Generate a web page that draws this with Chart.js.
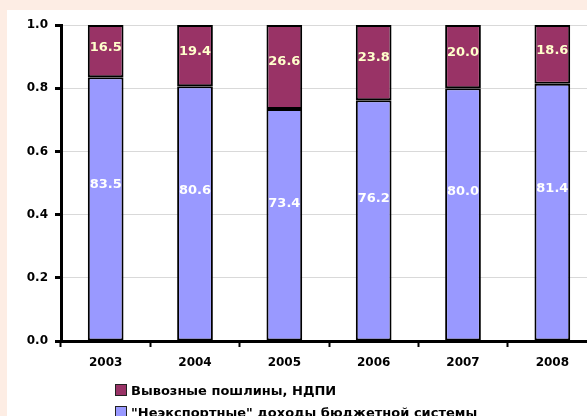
<!DOCTYPE html>
<html lang="ru">
<head>
<meta charset="utf-8">
<script src="https://cdn.jsdelivr.net/npm/chart.js@4.4.1/dist/chart.umd.min.js"></script>
<style>
  html, body { margin: 0; padding: 0; }
  body {
    width: 587px; height: 416px; overflow: hidden;
    background: #fdede4; position: relative;
    font-family: "DejaVu Sans", Arial, sans-serif;
  }
  .chart-box {
    position: absolute; left: 7px; top: 10px;
    width: 600px; height: 420px; background: #fff;
  }
  .chart-box canvas { position: absolute; left: 0; top: 0; }
  .legend {
    position: absolute; left: 108px; top: 369px;
    font-weight: bold; font-size: 13px; color: #000;
  }
  .legend__item { display: flex; align-items: center; height: 22px; white-space: nowrap; }
  .legend__box {
    width: 10px; height: 10px; border: 1px solid #222; margin-right: 4px;
  }
</style>
</head>
<body>
<div class="chart-box">
  <canvas id="chart" width="590" height="375"></canvas>
  <div class="legend" id="legend"></div>
</div>
<script>
// years
const categories = ['2003', '2004', '2005', '2006', '2007', '2008'];

// shares of budget revenue, %
const nonExportIncome = [83.5, 80.6, 73.4, 76.2, 80.0, 81.4];
const exportDuties = [16.5, 19.4, 26.6, 23.8, 20.0, 18.6];

const seriesNames = [
  '"Неэкспортные" доходы бюджетной системы',
  'Вывозные пошлины, НДПИ',
];

const yTicks = [0, 0.2, 0.4, 0.6, 0.8, 1.0];

const COLORS = {
  lower: '#9999ff',
  upper: '#993366',
  lowerText: '#ffffff',
  upperText: '#ffffcc',
};

const FONT = '"DejaVu Sans", Arial, sans-serif';

// values written inside each segment
const segmentLabels = {
  id: 'segmentLabels',
  afterDatasetsDraw(chart) {
    const { ctx } = chart;
    ctx.save();
    ctx.font = `bold 13px ${FONT}`;
    ctx.textAlign = 'center';
    ctx.textBaseline = 'middle';
    chart.data.datasets.forEach((ds, di) => {
      const meta = chart.getDatasetMeta(di);
      meta.data.forEach((bar, i) => {
        const h = bar.base - bar.y;
        const y = di === 0 ? bar.base - h * 0.59 : bar.y + h * 0.43;
        ctx.fillStyle = di === 0 ? COLORS.lowerText : COLORS.upperText;
        ctx.fillText(ds.raw[i].toFixed(1), bar.x, y);
      });
    });
    ctx.restore();
  },
};

const chart = new Chart(document.getElementById('chart').getContext('2d'), {
  type: 'bar',
  data: {
    labels: categories,
    datasets: [
      {
        label: seriesNames[0],
        raw: nonExportIncome,
        data: nonExportIncome.map(v => v / 100),
        backgroundColor: COLORS.lower,
        borderColor: '#000',
        borderWidth: 2,
        borderSkipped: false,
      },
      {
        label: seriesNames[1],
        raw: exportDuties,
        data: exportDuties.map(v => v / 100),
        backgroundColor: COLORS.upper,
        borderColor: '#000',
        borderWidth: 2,
        borderSkipped: false,
      },
    ],
  },
  options: {
    responsive: false,
    animation: false,
    devicePixelRatio: 1,
    layout: { padding: { top: 15, right: 0, left: 0, bottom: 0 } },
    datasets: {
      bar: { categoryPercentage: 1, barPercentage: 0.4 },
    },
    plugins: {
      legend: { display: false },
      tooltip: { enabled: false },
    },
    scales: {
      x: {
        stacked: true,
        afterFit: (scale) => { scale.height = 44; },
        border: { color: '#000', width: 3 },
        grid: {
          drawOnChartArea: false,
          drawTicks: true,
          tickLength: 6,
          tickWidth: 2,
          tickColor: '#000',
          offset: true,
        },
        ticks: {
          color: '#000',
          padding: 9,
          maxRotation: 0,
          font: { family: FONT, weight: 'bold', size: 12 },
        },
      },
      y: {
        stacked: true,
        min: 0,
        max: 1,
        afterFit: (scale) => { scale.width = 54; },
        afterBuildTicks: (scale) => { scale.ticks = yTicks.map(v => ({ value: v })); },
        border: { color: '#000', width: 3 },
        grid: {
          color: '#d9d9d9',
          lineWidth: 1,
          tickColor: '#000',
          tickWidth: 3,
          tickLength: 6,
        },
        ticks: {
          color: '#000',
          padding: 7,
          font: { family: FONT, weight: 'bold', size: 12 },
          callback: (v) => Number(v).toFixed(1),
        },
      },
    },
  },
  plugins: [segmentLabels],
});

// legend: upper series first, as in the source
const legendEl = document.getElementById('legend');
chart.data.datasets.slice().reverse().forEach(ds => {
  const item = document.createElement('div');
  item.className = 'legend__item';
  const box = document.createElement('span');
  box.className = 'legend__box';
  box.style.background = ds.backgroundColor;
  const text = document.createElement('span');
  text.textContent = ds.label;
  item.append(box, text);
  legendEl.appendChild(item);
});
</script>
</body>
</html>
